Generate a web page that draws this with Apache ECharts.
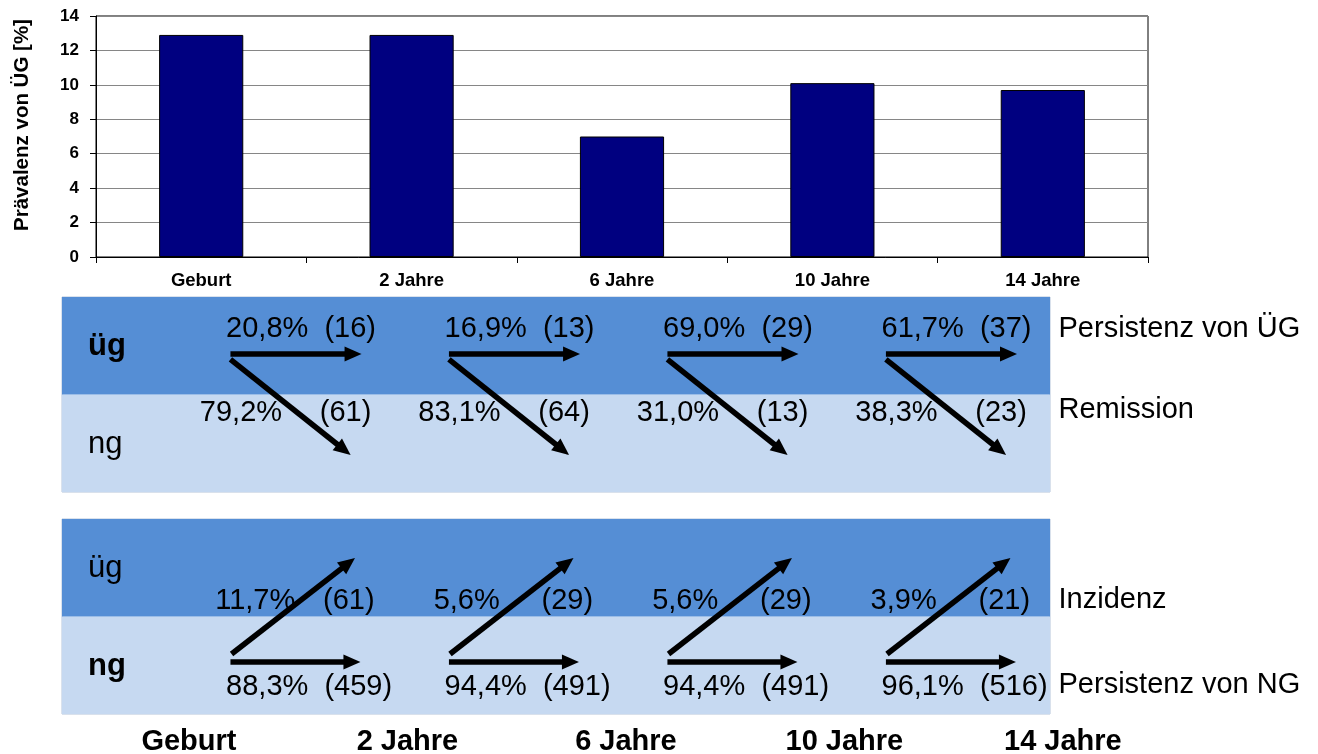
<!DOCTYPE html>
<html>
<head>
<meta charset="utf-8">
<title>Prävalenz und Übergänge von ÜG</title>
<script src="https://cdn.jsdelivr.net/npm/echarts@6/dist/echarts.min.js"></script>
<style>
  html, body { margin: 0; padding: 0; background: #ffffff; }
  #chart { width: 1318px; height: 754px; }
</style>
</head>
<body>
<div id="chart"></div>
<script>
// ---- data ----
const categories = ['Geburt', '2 Jahre', '6 Jahre', '10 Jahre', '14 Jahre'];
const prevalence = [12.9, 12.9, 7.0, 10.1, 9.7];          // Prävalenz von ÜG [%]
const yTicks = { min: 0, max: 14, interval: 2 };

// transitions between consecutive time points
const ugPersistPct = [20.8, 16.9, 69.0, 61.7];
const ugPersistN   = [16, 13, 29, 37];
const remissionPct = [79.2, 83.1, 31.0, 38.3];
const remissionN   = [61, 64, 13, 23];
const incidencePct = [11.7, 5.6, 5.6, 3.9];
const incidenceN   = [61, 29, 29, 21];
const ngPersistPct = [88.3, 94.4, 94.4, 96.1];
const ngPersistN   = [459, 491, 491, 516];

const rowLabels = ['ng', 'üg'];                    // row 0 = ng, row 1 = üg
const upperSideLabels = ['Persistenz von ÜG', 'Remission'];
const lowerSideLabels = ['Inzidenz', 'Persistenz von NG'];

// ---- styling ----
const FONT = '"Liberation Sans", Arial, Helvetica, sans-serif';
const DARK = '#558ED5';
const LIGHT = '#C6D9F1';
const BIG = 29;

const pct = v => v.toFixed(1).replace('.', ',') + '%';
const cnt = n => '(' + n + ')';

// diagram x range (time index units)
const X_MIN = -0.581, X_MAX = 3.941;
const SIDE_X = 3.98;

function arrow(api, from, to) {
  const p0 = api.coord(from), p1 = api.coord(to);
  const dx = p1[0] - p0[0], dy = p1[1] - p0[1];
  const L = Math.hypot(dx, dy);
  const ux = dx / L, uy = dy / L, nx = -uy, ny = ux;
  const HL = 17, HW = 7.5;
  const bx = p1[0] - ux * HL, by = p1[1] - uy * HL;
  return [
    { type: 'line', shape: { x1: p0[0], y1: p0[1], x2: bx + ux, y2: by + uy },
      style: { stroke: '#000', lineWidth: 5.5, lineCap: 'butt' } },
    { type: 'polygon', shape: { points: [[p1[0], p1[1]], [bx + nx * HW, by + ny * HW], [bx - nx * HW, by - ny * HW]] },
      style: { fill: '#000' } }
  ];
}

function text(api, pos, str, align, bold, size, dy) {
  const p = api.coord(pos);
  return {
    type: 'text', x: p[0], y: p[1] + (dy || 0),
    style: {
      text: str, fill: '#000', align: align || 'left', verticalAlign: 'middle',
      fontFamily: FONT, fontSize: size || BIG, fontWeight: bold ? 'bold' : 'normal'
    }
  };
}

// background rows of a diagram panel, with row labels
function bandSeries(gridIdx, boldRow) {
  return {
    type: 'custom', xAxisIndex: gridIdx, yAxisIndex: gridIdx, z: 1, silent: true,
    data: rowLabels.map((_, r) => r),
    renderItem(params, api) {
      const r = params.dataIndex;
      const cs = params.coordSys;
      const top = api.coord([X_MIN, r + 1])[1];
      const bottom = api.coord([X_MIN, r])[1];
      return {
        type: 'group',
        children: [
          { type: 'rect', shape: { x: cs.x, y: top, width: cs.width, height: bottom - top },
            style: { fill: r === 1 ? DARK : LIGHT } },
          text(api, [-0.462, r + 0.51], rowLabels[r], 'left', r === boldRow, 31, 2)
        ]
      };
    }
  };
}

option = {
  backgroundColor: '#ffffff',
  animation: false,
  textStyle: { fontFamily: FONT },
  grid: [
    { left: 96, top: 16, width: 1052, height: 241, show: true, borderColor: '#000', borderWidth: 1, outerBoundsMode: 'none' },
    { left: 62, top: 297, width: 988, height: 195, show: true, borderColor: '#B4C4DA', borderWidth: 1, outerBoundsMode: 'none' },
    { left: 62, top: 519, width: 988, height: 195, show: true, borderColor: '#B4C4DA', borderWidth: 1, outerBoundsMode: 'none' }
  ],
  xAxis: [
    {
      gridIndex: 0, type: 'category', data: categories,
      axisLine: { show: true, lineStyle: { color: '#000', width: 1 } },
      axisTick: { show: true, interval: 0, length: 6, lineStyle: { color: '#000' } },
      axisLabel: { color: '#000', fontWeight: 'bold', fontSize: 18.5, margin: 14, interval: 0 },
      splitLine: { show: false }
    },
    { gridIndex: 1, type: 'value', min: X_MIN, max: X_MAX, show: false },
    { gridIndex: 2, type: 'value', min: X_MIN, max: X_MAX, show: false }
  ],
  yAxis: [
    {
      gridIndex: 0, type: 'value', min: yTicks.min, max: yTicks.max, interval: yTicks.interval,
      name: 'Prävalenz von ÜG [%]', nameLocation: 'middle', nameGap: 63,
      nameTextStyle: { color: '#000', fontWeight: 'bold', fontSize: 20.5, fontFamily: FONT, padding: [0, 0, 0, 23] },
      axisLine: { show: true, lineStyle: { color: '#000', width: 1 } },
      axisTick: { show: true, length: 6, lineStyle: { color: '#000' } },
      axisLabel: { color: '#000', fontWeight: 'bold', fontSize: 17, margin: 17 },
      splitLine: { show: true, lineStyle: { color: '#868686', width: 1 } }
    },
    { gridIndex: 1, type: 'value', min: 0, max: 2, show: false },
    { gridIndex: 2, type: 'value', min: 0, max: 2, show: false }
  ],
  series: [
    {
      type: 'bar', xAxisIndex: 0, yAxisIndex: 0, data: prevalence, barWidth: '40%',
      itemStyle: { color: '#000080', borderColor: '#000', borderWidth: 1 }
    },
    bandSeries(1, 1),
    bandSeries(2, 0),
    // ÜG at the earlier time point: persistence and remission
    {
      type: 'custom', xAxisIndex: 1, yAxisIndex: 1, z: 5, silent: true,
      data: ugPersistPct.map((v, i) => [i, v, remissionPct[i]]),
      renderItem(params, api) {
        const i = params.dataIndex;
        const children = [
          ...arrow(api, [i + 0.19, 1.415], [i + 0.79, 1.415]),
          ...arrow(api, [i + 0.19, 1.36], [i + 0.74, 0.38]),
          text(api, [i + 0.17, 1.67], pct(ugPersistPct[i]) + '  ' + cnt(ugPersistN[i])),
          text(api, [i + 0.05, 0.81], pct(remissionPct[i])),
          text(api, [i + 0.835, 0.81], cnt(remissionN[i]), 'right')
        ];
        if (i === 0) {
          children.push(text(api, [SIDE_X, 1.67], upperSideLabels[0]));
          children.push(text(api, [SIDE_X, 0.84], upperSideLabels[1]));
        }
        return { type: 'group', children };
      }
    },
    // NG at the earlier time point: incidence and persistence
    {
      type: 'custom', xAxisIndex: 2, yAxisIndex: 2, z: 5, silent: true,
      data: incidencePct.map((v, i) => [i, v, ngPersistPct[i]]),
      renderItem(params, api) {
        const i = params.dataIndex;
        const children = [
          ...arrow(api, [i + 0.195, 0.615], [i + 0.76, 1.6]),
          ...arrow(api, [i + 0.19, 0.533], [i + 0.785, 0.533]),
          text(api, [i + 0.12, 1.16], pct(incidencePct[i])),
          text(api, [i + 0.85, 1.16], cnt(incidenceN[i]), 'right'),
          text(api, [i + 0.17, 0.277], pct(ngPersistPct[i]) + '  ' + cnt(ngPersistN[i]))
        ];
        if (i === 0) {
          children.push(text(api, [SIDE_X, 1.17], lowerSideLabels[0]));
          children.push(text(api, [SIDE_X, 0.3], lowerSideLabels[1]));
        }
        return { type: 'group', children };
      }
    },
    // time point names below the diagrams
    {
      type: 'custom', xAxisIndex: 2, yAxisIndex: 2, z: 5, silent: true, clip: false,
      data: categories.map((_, i) => i),
      renderItem(params, api) {
        const i = params.dataIndex;
        return text(api, [i, 0], categories[i], 'center', true, BIG, 28);
      }
    }
  ]
};

const chart = echarts.init(document.getElementById('chart'), null, { renderer: 'canvas' });
chart.setOption(option);
</script>
</body>
</html>
